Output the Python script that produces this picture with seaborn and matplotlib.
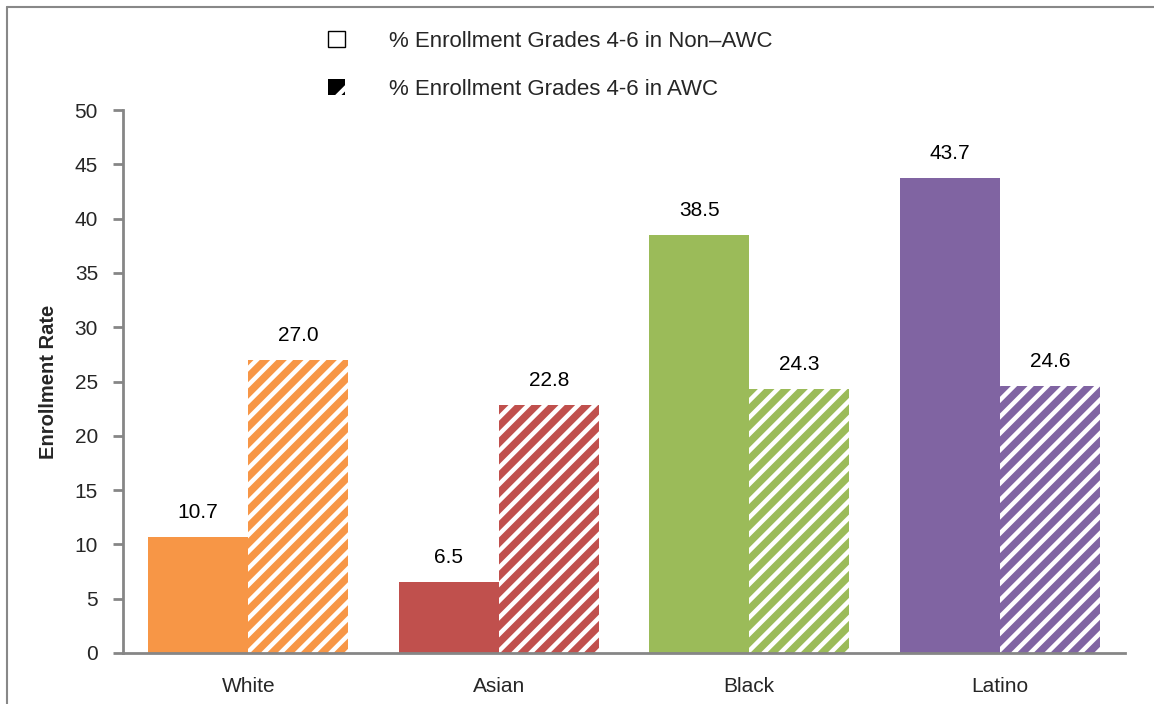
import matplotlib
matplotlib.use("Agg")
import matplotlib.pyplot as plt
import seaborn as sns
import pandas as pd
from matplotlib.patches import Patch
from matplotlib.lines import Line2D

groups = ["White", "Asian", "Black", "Latino"]
non_awc = [10.7, 6.5, 38.5, 43.7]
awc = [27.0, 22.8, 24.3, 24.6]
series = ["% Enrollment Grades 4-6 in Non\u2013AWC", "% Enrollment Grades 4-6 in AWC"]
colors = ["#F79646", "#C0504D", "#9BBB59", "#8064A2"]
yticks = [0, 5, 10, 15, 20, 25, 30, 35, 40, 45, 50]

df = pd.DataFrame({
    "group": groups * 2,
    "value": non_awc + awc,
    "series": [series[0]] * 4 + [series[1]] * 4,
})

sns.set_style("white")
plt.rcParams["font.family"] = ["Liberation Sans", "DejaVu Sans"]
plt.rcParams["hatch.linewidth"] = 3.2
fs = 15

fig = plt.figure(figsize=(11.54, 7.04), dpi=100)
ax = fig.add_axes([123 / 1154, 1 - 653 / 704, 1002 / 1154, 543 / 704])

sns.barplot(data=df, x="group", y="value", hue="series", order=groups,
            hue_order=series, ax=ax, legend=False, width=0.8, saturation=1)

for i, bar in enumerate(ax.containers[0]):
    bar.set_facecolor(colors[i])
    bar.set_edgecolor("none")
    bar.set_linewidth(0)
for i, bar in enumerate(ax.containers[1]):
    bar.set_facecolor(colors[i])
    bar.set_edgecolor("white")
    bar.set_linewidth(0)
    bar.set_hatch("//")

for c in ax.containers:
    ax.bar_label(c, fmt="%.1f", padding=11, fontsize=fs, color="black")

ax.set_ylim(0, 50)
ax.set_yticks(yticks)
ax.set_xlim(-0.5, 3.5)
ax.set_xticks([-0.5, 0.5, 1.5, 2.5, 3.5], minor=True)
ax.tick_params(axis="x", which="major", length=0, pad=17, labelsize=fs)
ax.tick_params(axis="x", which="minor", length=7, width=2, color="#868686", direction="out")
ax.tick_params(axis="y", length=7, width=2, color="#868686", direction="out", pad=11, labelsize=fs, left=True)
for s in ["top", "right"]:
    ax.spines[s].set_visible(False)
for s in ["left", "bottom"]:
    ax.spines[s].set_color("#868686")
    ax.spines[s].set_linewidth(2)
ax.set_xlabel("")
ax.set_ylabel("Enrollment Rate", fontsize=14.5, fontweight="bold", labelpad=12)

handles = [
    Patch(facecolor="white", edgecolor="black", linewidth=1),
    Patch(facecolor="black", edgecolor="white", hatch="/", linewidth=0),
]
fig.legend(handles, series, loc="upper left", bbox_to_anchor=(308 / 1154, 1 - 11 / 704),
           frameon=False, fontsize=16, handlelength=0.75, handleheight=0.75,
           handletextpad=2.0, labelspacing=1.2)

fig.add_artist(Line2D([7 / 1154, 7 / 1154], [0, 1 - 7 / 704], transform=fig.transFigure,
                      color="#888888", linewidth=1.5))
fig.add_artist(Line2D([7 / 1154, 1], [1 - 7 / 704, 1 - 7 / 704], transform=fig.transFigure,
                      color="#888888", linewidth=1.5))

fig.savefig("out.png", dpi=100)
